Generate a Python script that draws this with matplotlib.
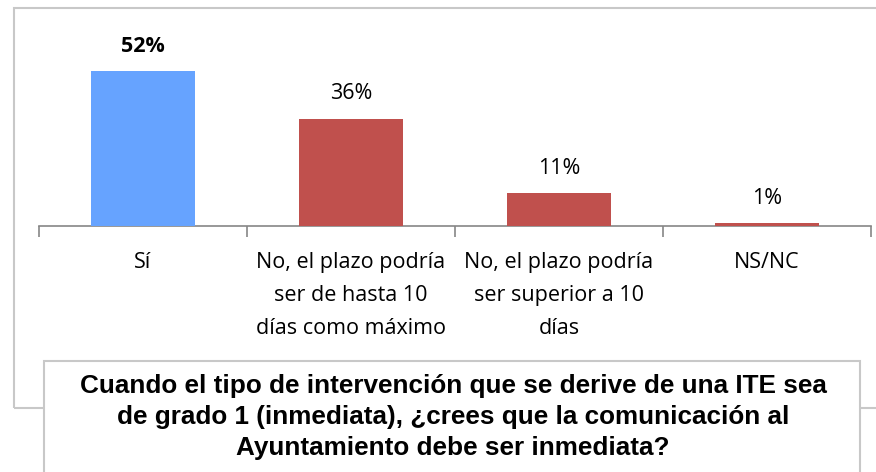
import matplotlib
matplotlib.use("Agg")
import matplotlib.pyplot as plt
from matplotlib.patches import Rectangle

categories = ["Sí", "No, el plazo podría\nser de hasta 10\ndías como máximo",
              "No, el plazo podría\nser superior a 10\ndías", "NS/NC"]
values = [52, 36, 11, 1]
value_labels = ["52%", "36%", "11%", "1%"]
colors = ["#66A3FF", "#C0504D", "#C0504D", "#C0504D"]
title = ("Cuando el tipo de intervención que se derive de una ITE sea\n"
         "de grado 1 (inmediata), ¿crees que la comunicación al\n"
         "Ayuntamiento debe ser inmediata?")

W, H = 876, 472
fig = plt.figure(figsize=(W / 100, H / 100), dpi=100)

def fx(px):
    return px / W

def fy(py):
    return 1 - py / H

# outer chart frame
fig.patches.append(Rectangle((fx(14), fy(408)), fx(900) - fx(14), fy(8) - fy(408),
                             transform=fig.transFigure, fill=False,
                             edgecolor="#C8C8C8", lw=1.5, zorder=0))

ax = fig.add_axes([fx(39), fy(226), fx(871) - fx(39), fy(10) - fy(226)])
ax.set_facecolor("none")
x = list(range(len(values)))
ax.bar(x, values, width=0.5, color=colors, zorder=3)
ax.set_xlim(-0.5, 3.5)
ax.set_ylim(0, (226 - 10) / 2.98)
for s in ["top", "right", "left"]:
    ax.spines[s].set_visible(False)
ax.spines["bottom"].set_color("#868686")
ax.spines["bottom"].set_linewidth(1.2)
ax.set_yticks([])
ax.set_xticks(x)
ax.set_xticklabels(categories, fontsize=15.5, family=["Open Sans", "DejaVu Sans"],
                   linespacing=1.75, va="top")
ax.tick_params(axis="x", which="major", length=0, pad=19)
ax.set_xticks([-0.5, 0.5, 1.5, 2.5, 3.5], minor=True)
ax.tick_params(axis="x", which="minor", length=8, width=1.2, color="#868686",
               direction="out")

for i, (v, lab) in enumerate(zip(values, value_labels)):
    ax.annotate(lab, (i, v), xytext=(0, 18), textcoords="offset points",
                ha="center", va="center", fontsize=15.5,
                fontweight="bold" if i == 0 else "normal",
                family=["Open Sans", "DejaVu Sans"])

# title box
fig.patches.append(Rectangle((fx(44), fy(500)), fx(860) - fx(44), fy(361) - fy(500),
                             transform=fig.transFigure, facecolor="white",
                             edgecolor="#C8C8C8", lw=1.5, zorder=5))
fig.text(fx(453), fy(417), title, ha="center", va="center", fontsize=18.8,
         fontweight="bold", family=["Liberation Sans", "DejaVu Sans"],
         linespacing=1.36, zorder=6)

fig.savefig("out.png", dpi=100)
